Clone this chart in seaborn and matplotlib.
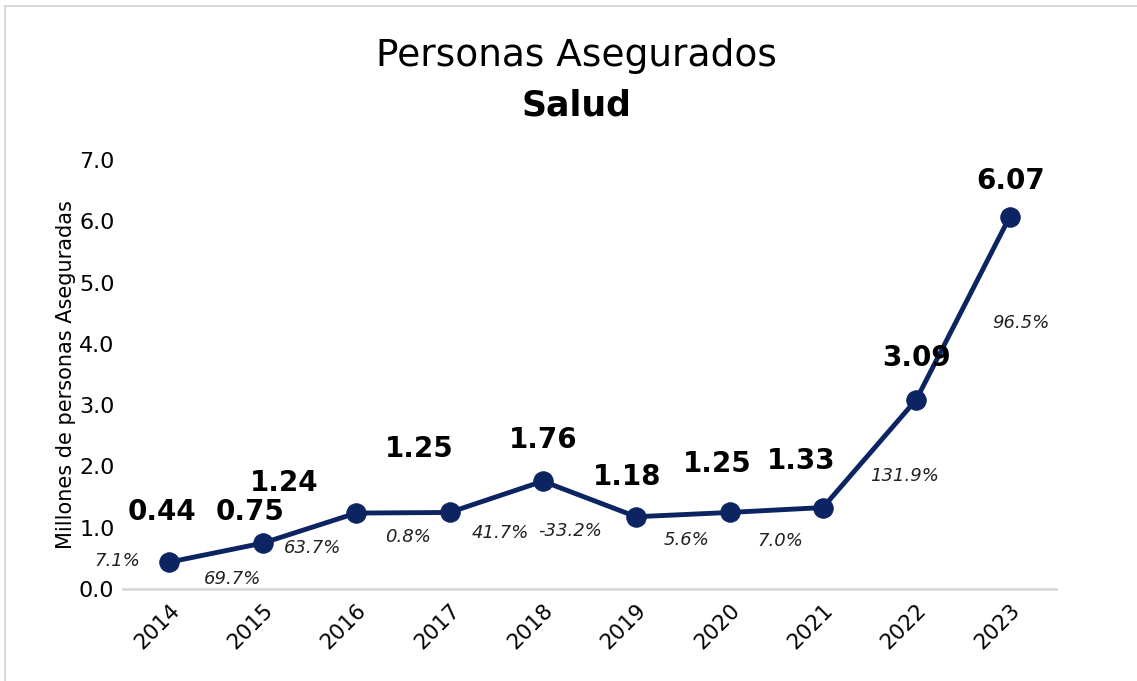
import matplotlib
matplotlib.use("Agg")
import matplotlib.pyplot as plt
import seaborn as sns
import pandas as pd
from matplotlib.lines import Line2D

# Datos
anios = ["2014", "2015", "2016", "2017", "2018", "2019", "2020", "2021", "2022", "2023"]
asegurados = [0.44, 0.75, 1.24, 1.25, 1.76, 1.18, 1.25, 1.33, 3.09, 6.07]
variacion = ["7.1%", "69.7%", "63.7%", "0.8%", "41.7%", "-33.2%", "5.6%", "7.0%", "131.9%", "96.5%"]

df = pd.DataFrame({"anio": anios, "valor": asegurados})

sns.set_style("white")
plt.rcParams["font.family"] = ["DejaVu Sans"]
plt.rcParams["text.color"] = "black"
plt.rcParams["axes.labelcolor"] = "black"
plt.rcParams["xtick.color"] = "black"
plt.rcParams["ytick.color"] = "black"

azul = "#0c2461"

fig = plt.figure(figsize=(11.37, 6.81), dpi=100)
ax = fig.add_axes([0.108, 0.135, 0.821, 0.63])

sns.lineplot(data=df, x="anio", y="valor", ax=ax, color=azul, linewidth=3.5,
             marker="o", markersize=14, markeredgecolor=azul, sort=False)

ax.set_xlim(-0.5, len(anios) - 0.5)
ax.set_ylim(0, 7)
ax.set_yticks([0, 1, 2, 3, 4, 5, 6, 7])
ax.set_yticklabels([f"{v:.1f}" for v in range(8)], fontsize=16)
ax.tick_params(axis="x", labelsize=15.5, rotation=45, length=0, pad=8)
ax.tick_params(axis="y", length=0, pad=6)
for lbl in ax.get_xticklabels():
    lbl.set_ha("right")
    lbl.set_rotation_mode("anchor")
ax.set_xlabel("")
ax.set_ylabel("Millones de personas Aseguradas", fontsize=15, labelpad=2)

for s in ["top", "right", "left"]:
    ax.spines[s].set_visible(False)
ax.spines["bottom"].set_color("#d9d9d9")
ax.spines["bottom"].set_linewidth(2)

# desplazamientos manuales de etiquetas (pixeles)
off_val = [(-7, 50), (-13, 31), (-72, 30), (-30, 63), (0, 41),
           (-9, 40), (-12, 48), (-22, 47), (0, 42), (1, 36)]
off_pct = [(-52, 1), (-30, -36), (-44, -35), (-41, -25), (-43, -52),
           (-66, -14), (-43, -28), (-43, -33), (-12, -76), (11, -106)]

for i, (v, p) in enumerate(zip(asegurados, variacion)):
    ax.annotate(f"{v:.2f}", (i, v), xytext=off_val[i], textcoords="offset pixels",
                ha="center", va="center", fontsize=20, fontweight="bold", color="black")
    ax.annotate(p, (i, v), xytext=off_pct[i], textcoords="offset pixels",
                ha="center", va="center", fontsize=13, fontstyle="italic", color="#222222")

fig.text(0.507, 0.918, "Personas Asegurados", ha="center", va="center", fontsize=27)
fig.text(0.507, 0.845, "Salud", ha="center", va="center", fontsize=25, fontweight="bold")

# borde del grafico
fig.add_artist(Line2D([5 / 1137, 5 / 1137], [0, 1 - 6 / 681], transform=fig.transFigure,
                      color="#d9d9d9", linewidth=1.5))
fig.add_artist(Line2D([5 / 1137, 1], [1 - 6 / 681, 1 - 6 / 681], transform=fig.transFigure,
                      color="#d9d9d9", linewidth=1.5))

fig.savefig("out.png", dpi=100)
